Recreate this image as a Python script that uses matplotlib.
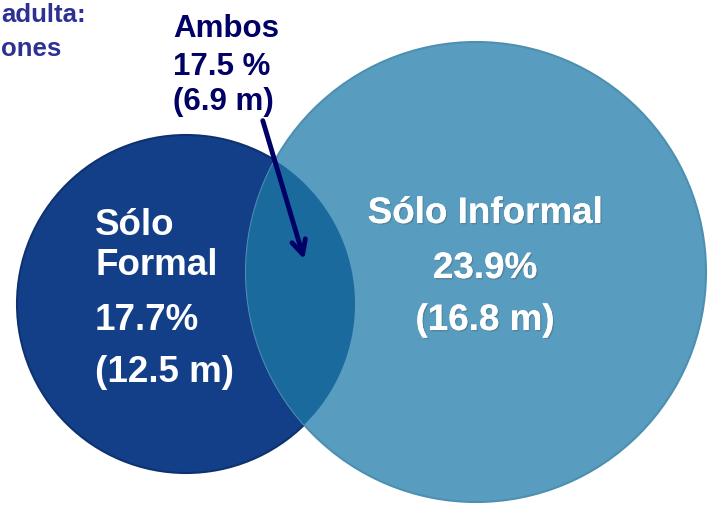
import matplotlib.pyplot as plt
from matplotlib.patches import Circle
import matplotlib.patheffects as pe

plt.rcParams['font.family'] = ['Liberation Sans', 'DejaVu Sans']

# data
formal_lines = ["Sólo", "Formal"]
informal_label = "Sólo Informal"
both_label = "Ambos"
group_pct = [17.7, 23.9, 17.5]
group_millions = [12.5, 16.8, 6.9]
header_lines = ["adulta:", "ones"]

DARK = "#133F88"
LIGHT = "#589DC0"
BOTH = "#1B6A9E"
NAVY = "#000066"
HEAD = "#2E3192"

fig = plt.figure(figsize=(7.16, 5.05), dpi=100)
ax = fig.add_axes([0, 0, 1, 1])
ax.set_xlim(0, 716)
ax.set_ylim(505, 0)
ax.set_aspect("equal")
ax.axis("off")

formal = Circle((186, 304), 169, facecolor=DARK, edgecolor="#0E3270", lw=1.5)
informal = Circle((476, 272), 230, facecolor=LIGHT, edgecolor="#4D8FB0", lw=1.5)
ax.add_patch(formal)
ax.add_patch(informal)
both = Circle((186, 304), 169, facecolor=BOTH, edgecolor="none")
ax.add_patch(both)
both.set_clip_path(Circle((476, 272), 230, transform=ax.transData))

bold = dict(fontweight="bold", color="white", va="baseline")
shadow = [pe.withSimplePatchShadow(offset=(1, -1), alpha=0.3), pe.Normal()]
big = 26.5

# Sólo Formal
ax.text(95, 235, formal_lines[0], fontsize=big, ha="left", **bold)
ax.text(95, 275, formal_lines[1], fontsize=big, ha="left", **bold)
ax.text(95, 330, f"{group_pct[0]}%", fontsize=big, ha="left", **bold)
ax.text(95, 382, f"({group_millions[0]} m)", fontsize=big, ha="left", **bold)

# Sólo Informal
ax.text(485, 223, informal_label, fontsize=big, ha="center",
        path_effects=shadow, **bold)
ax.text(485, 278, f"{group_pct[1]}%", fontsize=big, ha="center",
        path_effects=shadow, **bold)
ax.text(485, 330, f"({group_millions[1]} m)", fontsize=big, ha="center",
        path_effects=shadow, **bold)

# Ambos
amb = dict(fontsize=22.5, fontweight="bold", color=NAVY, ha="left", va="baseline")
ax.text(173, 37, both_label, **amb)
ax.text(173, 75, f"{group_pct[2]} %", **amb)
ax.text(173, 110, f"({group_millions[2]} m)", **amb)

ax.annotate("", xy=(305, 262), xytext=(262, 118),
            arrowprops=dict(arrowstyle="->,head_length=1.0,head_width=0.5",
                            color=NAVY, lw=3.5))

# header, only the visible part
ax.text(1, 22, header_lines[0], fontsize=18.5, fontweight="bold", color=HEAD,
        ha="left", va="baseline")
ax.text(1, 56, header_lines[1], fontsize=18.5, fontweight="bold", color=HEAD,
        ha="left", va="baseline")

fig.savefig("out.png", dpi=100)
